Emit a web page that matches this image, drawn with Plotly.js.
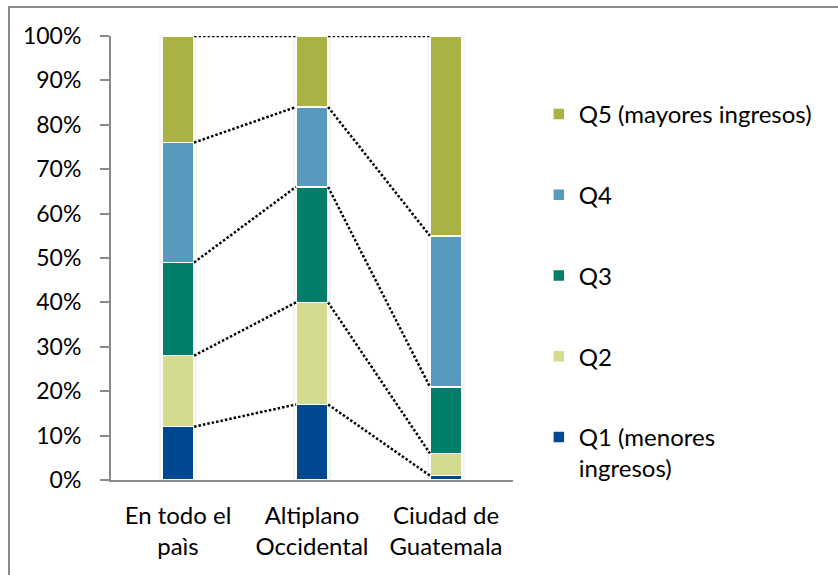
<!DOCTYPE html>
<html>
<head>
<meta charset="utf-8">
<script src="https://cdn.plot.ly/plotly-3.0.1.min.js"></script>
<style>
  html, body { margin: 0; padding: 0; background: #fff; }
  #wrap { position: relative; width: 838px; height: 575px; overflow: hidden; }
  #chart { position: absolute; left: 0; top: 0; width: 838px; height: 575px; }
  #frame { position: absolute; left: 8px; top: 6px; width: 900px; height: 700px;
           border: 2px solid #8a8a8a; box-sizing: border-box; pointer-events: none; }
</style>
</head>
<body>
<div id="wrap"><div id="chart"></div><div id="frame"></div></div>
<script>
// ---- data ----
const categories = ['En todo el<br>paìs', 'Altiplano<br>Occidental', 'Ciudad de<br>Guatemala'];
const seriesNames = ['Q1 (menores<br>ingresos)', 'Q2', 'Q3', 'Q4', 'Q5 (mayores ingresos)'];
const q1 = [12, 17, 1];
const q2 = [16, 23, 5];
const q3 = [21, 26, 15];
const q4 = [27, 18, 34];
const q5 = [24, 16, 45];
const yTickVals = [0, 10, 20, 30, 40, 50, 60, 70, 80, 90, 100];
const yTickText = ['0%', '10%', '20%', '30%', '40%', '50%', '60%', '70%', '80%', '90%', '100%'];

// ---- styles ----
const colors = ['#004990', '#D4DB8F', '#007E68', '#589ABE', '#A9B242'];
const FONT = 'Lato, "Noto Sans", sans-serif';
const barWidth = 0.24;

const series = [q1, q2, q3, q4, q5];
const xIdx = categories.map((_, i) => i);

// cumulative tops
const cum = [];
let run = xIdx.map(() => 0);
series.forEach(vals => {
  run = run.map((r, i) => r + vals[i]);
  cum.push(run.slice());
});
const totals = cum[cum.length - 1];

const traces = [];
// soft shadow behind bars (base axis, drawn underneath)
[[0.29, 'rgba(0,0,0,0.035)'], [0.265, 'rgba(0,0,0,0.06)']].forEach(([w, c]) => {
  traces.push({
    type: 'bar', x: xIdx, y: totals, width: w, xaxis: 'x', yaxis: 'y',
    marker: { color: c, line: { width: 0 } }, showlegend: false, hoverinfo: 'skip'
  });
});
series.forEach((vals, k) => {
  traces.push({
    type: 'bar',
    x: xIdx,
    y: vals,
    width: barWidth,
    xaxis: 'x2', yaxis: 'y',
    name: seriesNames[k],
    legendgroup: 'g' + k,
    legendrank: 100 - k,
    marker: { color: colors[k], line: { color: '#ffffff', width: 1.5 } },
    hoverinfo: 'skip'
  });
});

// series lines (Excel-style connectors at cumulative tops)
const lx = [], ly = [];
cum.forEach(c => {
  for (let i = 0; i < xIdx.length - 1; i++) {
    lx.push(xIdx[i] + barWidth / 2, xIdx[i + 1] - barWidth / 2, null);
    ly.push(c[i], c[i + 1], null);
  }
});
traces.push({
  type: 'scatter', mode: 'lines', x: lx, y: ly, xaxis: 'x2', yaxis: 'y',
  line: { color: '#000000', width: 2.5, dash: '2.5px,2px' },
  showlegend: false, hoverinfo: 'skip', cliponaxis: false
});

const layout = {
  width: 838, height: 575,
  margin: { l: 111, r: 325, t: 36, b: 95 },
  paper_bgcolor: 'rgba(0,0,0,0)', plot_bgcolor: '#ffffff',
  barmode: 'stack',
  font: { family: FONT, size: 24, color: '#000000' },
  showlegend: true,
  legend: {
    xref: 'container', yref: 'container',
    x: 0.643, xanchor: 'left', y: 0.84, yanchor: 'top',
    traceorder: 'grouped', tracegroupgap: 46.5, valign: 'top',
    maxheight: 560,
    font: { family: FONT, size: 24, color: '#000000' },
    bgcolor: 'rgba(0,0,0,0)'
  },
  xaxis: {
    range: [-0.5, 2.5], tickmode: 'array', tickvals: xIdx, ticktext: categories,
    showline: true, linecolor: '#8a8a8a', linewidth: 2, ticks: '', showgrid: false,
    zeroline: false, fixedrange: true, ticklabelstandoff: 13,
    tickfont: { family: FONT, size: 24, color: '#000000' }
  },
  xaxis2: {
    range: [-0.5, 2.5], overlaying: 'x', visible: false, fixedrange: true
  },
  yaxis: {
    range: [0, 100], tickmode: 'array', tickvals: yTickVals, ticktext: yTickText,
    showline: true, linecolor: '#8a8a8a', linewidth: 2, ticks: 'outside', ticklen: 9,
    tickcolor: '#8a8a8a', tickwidth: 2, showgrid: false, zeroline: false, fixedrange: true,
    ticklabelstandoff: 14,
    tickfont: { family: FONT, size: 23, color: '#000000' }
  }
};

Plotly.newPlot('chart', traces, layout, { displayModeBar: false, staticPlot: true });
</script>
</body>
</html>
